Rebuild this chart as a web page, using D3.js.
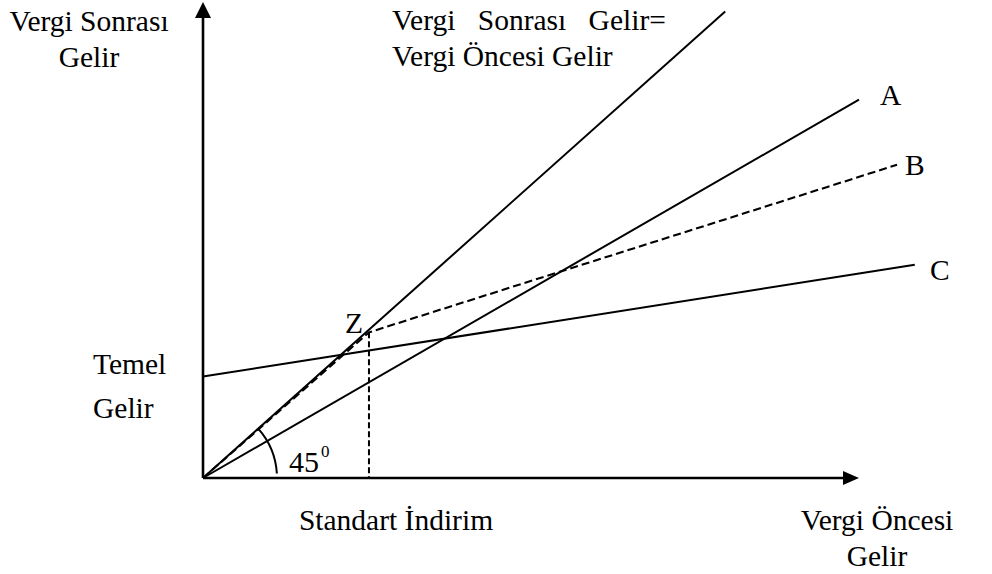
<!DOCTYPE html>
<html>
<head>
<meta charset="utf-8">
<script src="https://cdn.jsdelivr.net/npm/d3@7"></script>
<style>
  html, body { margin: 0; padding: 0; background: #fff; }
  svg text { font-family: "Liberation Serif", "Times New Roman", serif; fill: #000; }
</style>
</head>
<body>
<svg id="chart" width="992" height="574"></svg>
<script>
// Income schedules in abstract units: pre-tax income (x) vs after-tax income (y)
const equalityLine = [[0, 0], [79.6, 98.0]];          // after-tax = pre-tax
const lineA = [[0, 0], [100, 79.5]];                   // proportional tax
const zPoint = [25.3, 30.6];                           // standard deduction kink
const lineB = [[0, 0], zPoint, [105.8, 65.8]];         // tax with standard deduction
const lineC = [[0, 21.3], [108.5, 44.8]];              // basic income + tax
const angleLabel = "45";
const angleSup = "0";

const svg = d3.select("#chart");
const origin = { x: 203, y: 478 };
const x = d3.scaleLinear().domain([0, 100]).range([origin.x, 859]);
const y = d3.scaleLinear().domain([0, 100]).range([origin.y, 2]);
const line = d3.line().x(d => x(d[0])).y(d => y(d[1]));

// Axes with arrowheads
svg.append("line").attr("x1", x(0)).attr("y1", y(0)).attr("x2", x(0)).attr("y2", y(97))
  .attr("stroke", "#000").attr("stroke-width", 2.6);
svg.append("line").attr("x1", x(0)).attr("y1", y(0)).attr("x2", x(98)).attr("y2", y(0))
  .attr("stroke", "#000").attr("stroke-width", 2.6);
svg.append("path")
  .attr("d", `M${x(0)},${y(100)} L${x(0) - 8},${y(100) + 16} L${x(0) + 8},${y(100) + 16} Z`)
  .attr("fill", "#000");
svg.append("path")
  .attr("d", `M${x(100)},${y(0)} L${x(100) - 16},${y(0) - 7} L${x(100) - 16},${y(0) + 7} Z`)
  .attr("fill", "#000");

// Solid schedules
[equalityLine, lineA, lineC].forEach(d => {
  svg.append("path").attr("d", line(d)).attr("fill", "none")
    .attr("stroke", "#000").attr("stroke-width", 2);
});

// Dashed schedule B and the deduction marker
svg.append("path").attr("d", line(lineB)).attr("fill", "none")
  .attr("stroke", "#000").attr("stroke-width", 2.1).attr("stroke-dasharray", "8,4");
svg.append("line")
  .attr("x1", x(zPoint[0])).attr("y1", y(zPoint[1]))
  .attr("x2", x(zPoint[0])).attr("y2", y(0))
  .attr("stroke", "#000").attr("stroke-width", 2).attr("stroke-dasharray", "6,3");

// Angle arc between the axis and the equality line
const r = 74;
const theta = Math.atan2(y(0) - y(equalityLine[1][1]), x(equalityLine[1][0]) - x(0));
const arc = d3.arc().innerRadius(r).outerRadius(r)
  .startAngle(Math.PI / 2 - theta).endAngle(Math.PI / 2 - 0.06);
svg.append("path").attr("d", arc()).attr("transform", `translate(${x(0)},${y(0)})`)
  .attr("fill", "none").attr("stroke", "#000").attr("stroke-width", 2);

const fs = 29.5;
const t = (tx, ty, s, anchor = "start", size = fs) =>
  svg.append("text").attr("x", tx).attr("y", ty).attr("text-anchor", anchor)
    .attr("font-size", size).text(s);

// Angle label
t(289, 472, angleLabel, "start", 30);
t(321, 457, angleSup, "start", 17);

// Axis titles
t(89, 31, "Vergi Sonrası", "middle");
t(89, 67, "Gelir", "middle");
t(877, 530, "Vergi Öncesi", "middle");
t(877, 566, "Gelir", "middle");
t(396, 530, "Standart İndirim", "middle");
t(93, 374, "Temel");
t(93, 418, "Gelir");

// Equality line label
svg.append("text").attr("x", 392).attr("y", 30).attr("font-size", fs)
  .attr("word-spacing", 15).text("Vergi Sonrası Gelir=");
t(392, 66, "Vergi Öncesi Gelir");

// Schedule labels
t(880, 105, "A");
t(905, 175, "B");
t(930, 280, "C");
t(345, 333, "Z");
</script>
</body>
</html>
